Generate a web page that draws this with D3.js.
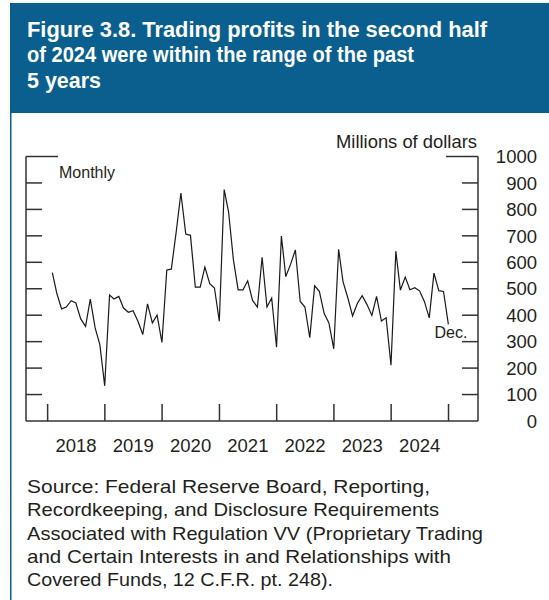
<!DOCTYPE html>
<html><head><meta charset="utf-8">
<script src="https://cdn.jsdelivr.net/npm/d3@7"></script>
<style>body{margin:0;background:#fff}svg{display:block}text{font-family:"Liberation Sans",Arial,sans-serif}</style>
</head><body><svg id="c" width="549" height="600"></svg>
<script>
const startYear = 2018;
const values = [561,484,424,431,455,446,386,358,461,352,289,133,
476,461,471,427,411,417,377,327,443,371,400,297,
571,574,715,862,707,702,506,506,582,519,503,377,
875,791,609,496,496,530,456,431,619,431,465,279,
699,546,593,647,452,431,315,511,490,406,371,273,
649,527,465,397,445,474,440,399,471,378,390,211,
642,495,544,496,504,492,452,390,559,493,490,365];
const yearLabels = ["2018","2019","2020","2021","2022","2023","2024"];
const yTicks = [0,100,200,300,400,500,600,700,800,900,1000];
const titleLines = ["Figure 3.8. Trading profits in the second half","of 2024 were within the range of the past","5 years"];
const sourceLines = ["Source: Federal Reserve Board, Reporting,","Recordkeeping, and Disclosure Requirements","Associated with Regulation VV (Proprietary Trading","and Certain Interests in and Relationships with","Covered Funds, 12 C.F.R. pt. 248)."];

const svg = d3.select("#c");
const blue = "#0a5f8f", ink = "#231f20";
// banner
svg.append("rect").attr("x",10).attr("y",3).attr("width",539).attr("height",110).attr("fill",blue);
svg.append("line").attr("x1",10.75).attr("x2",10.75).attr("y1",113).attr("y2",600).attr("stroke",blue).attr("stroke-width",1.5);
const tl = [460,387,74];
svg.selectAll("text.title").data(titleLines).join("text").attr("class","title")
  .attr("x",27).attr("y",(d,i)=>36.5+i*25.5).attr("fill","#fff").attr("font-weight","bold")
  .attr("font-size",22).attr("textLength",(d,i)=>tl[i]).attr("lengthAdjust","spacingAndGlyphs").text(d=>d);

const L=26,R=478,T=156.5,B=421;
const x = d3.scaleTime().domain([new Date(2017,7,16), new Date(2025,6,8)]).range([L,R]);
const y = d3.scaleLinear().domain([0,1000]).range([B,T]);
const g = svg.append("g");
const fs = {stroke:"#333","stroke-width":1.5,fill:"none"};
function ln(x1,y1,x2,y2){const l=g.append("line").attr("x1",x1).attr("y1",y1).attr("x2",x2).attr("y2",y2);for(const k in fs)l.attr(k,fs[k]);return l;}
ln(L,T,L,B); ln(R,T,R,B); ln(L,B,R,B); ln(L,T,L+32,T); ln(R-32,T,R,T);
yTicks.filter(v=>v>0&&v<1000).forEach(v=>{ln(L,y(v),L+16,y(v)); ln(R-16,y(v),R,y(v));});
const yearTicks = d3.range(startYear, startYear+yearLabels.length+1).map(yr=>new Date(yr,0,1));
yearTicks.forEach(d=>ln(x(d),B,x(d),B-17));
g.selectAll("text.yl").data(yTicks).join("text").attr("class","yl").attr("x",537).attr("y",d=>y(d)).attr("dy","0.36em")
  .attr("text-anchor","end").attr("font-size",18.5).attr("fill",ink).text(d=>d);
g.selectAll("text.xl").data(yearLabels).join("text").attr("class","xl").attr("x",(d,i)=>x(new Date(startYear+i,6,1))).attr("y",452)
  .attr("text-anchor","middle").attr("font-size",18.5).attr("fill",ink).text(d=>d);
g.append("text").attr("x",477).attr("y",148).attr("text-anchor","end").attr("font-size",17.5).attr("fill",ink)
  .attr("textLength",141).attr("lengthAdjust","spacingAndGlyphs").text("Millions of dollars");
g.append("text").attr("x",59).attr("y",178).attr("font-size",16).attr("fill",ink).text("Monthly");

const data = values.map((v,i)=>({d:new Date(startYear,i+1,0),v}));
g.append("path").datum(data).attr("fill","none").attr("stroke","#1a1a1a").attr("stroke-width",1.2).attr("stroke-linejoin","miter")
  .attr("d",d3.line().x(p=>x(p.d)).y(p=>y(p.v)));
const last = data[data.length-1];
g.append("text").attr("x",x(last.d)+19).attr("y",y(last.v)+14).attr("text-anchor","end").attr("font-size",16).attr("fill",ink).text("Dec.");

const sl = [403,412,456,424,306];
svg.selectAll("text.src").data(sourceLines).join("text").attr("class","src").attr("x",27).attr("y",(d,i)=>493+i*23.3)
  .attr("font-size",19).attr("fill",ink).attr("textLength",(d,i)=>sl[i]).attr("lengthAdjust","spacingAndGlyphs").text(d=>d);
</script></body></html>
